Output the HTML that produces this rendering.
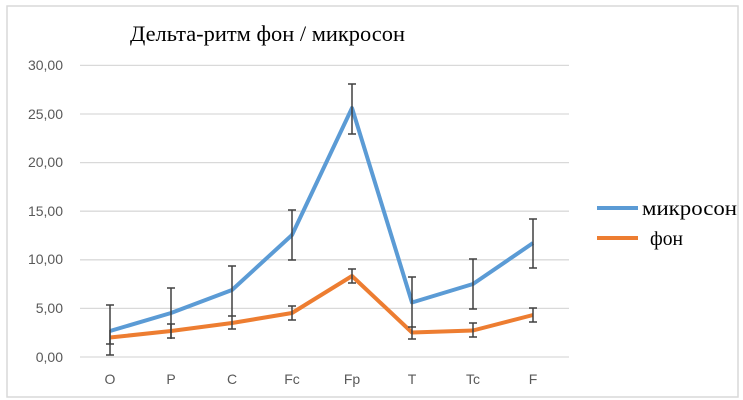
<!DOCTYPE html>
<html><head><meta charset="utf-8"><style>
body{margin:0;background:#fff;}
svg{display:block;}
</style></head><body>
<svg width="743" height="400" viewBox="0 0 743 400" xmlns="http://www.w3.org/2000/svg">
<rect x="0" y="0" width="743" height="400" fill="#fff"/>
<rect x="7" y="6" width="731" height="391" fill="none" stroke="#d9d9d9" stroke-width="1.5"/>
<text x="130" y="41" font-family="Liberation Serif, serif" font-size="22" fill="#000" textLength="275" lengthAdjust="spacingAndGlyphs">Дельта-ритм фон / микросон</text>
<g stroke="#d9d9d9" stroke-width="1.3">
<line x1="80" y1="65.4" x2="569" y2="65.4"/>
<line x1="80" y1="114" x2="569" y2="114"/>
<line x1="80" y1="162.6" x2="569" y2="162.6"/>
<line x1="80" y1="211.2" x2="569" y2="211.2"/>
<line x1="80" y1="259.8" x2="569" y2="259.8"/>
<line x1="80" y1="308.4" x2="569" y2="308.4"/>
<line x1="80" y1="357" x2="569" y2="357"/>
</g>
<g font-family="Liberation Sans, sans-serif" font-size="14" fill="#595959" text-anchor="end">
<text x="63" y="70">30,00</text>
<text x="63" y="119">25,00</text>
<text x="63" y="167">20,00</text>
<text x="63" y="216">15,00</text>
<text x="63" y="264">10,00</text>
<text x="63" y="313">5,00</text>
<text x="63" y="362">0,00</text>
</g>
<g font-family="Liberation Sans, sans-serif" font-size="14" fill="#595959" text-anchor="middle">
<text x="110" y="384">O</text><text x="171" y="384">P</text><text x="232" y="384">C</text><text x="292" y="384">Fc</text><text x="352" y="384">Fp</text><text x="412" y="384">T</text><text x="473" y="384">Tc</text><text x="533" y="384">F</text>
</g>
<polyline fill="none" stroke="#5b9bd5" stroke-width="4" stroke-linejoin="round" points="110,331 171,313 232,290 292,235 352,108 412,302.5 473,284 533,243"/>
<polyline fill="none" stroke="#ed7d31" stroke-width="4" stroke-linejoin="round" points="110,337.5 171,331 232,323 292,313 352,276 412,332.5 473,330.5 533,315"/>
<g stroke="#404040" stroke-width="1.5">
<path d="M110,305V355M106,305h8M106,355h8"/>
<path d="M171,288V339M167,288h8"/>
<path d="M232,266V316M228,266h8M228,316h8"/>
<path d="M292,210V260M288,210h8M288,260h8"/>
<path d="M352,84V134M348,84h8M348,134h8"/>
<path d="M412,277V327M408,277h8M408,327h8"/>
<path d="M473,259V309M469,259h8M469,309h8"/>
<path d="M533,219V268M529,219h8M529,268h8"/>
<path d="M110,330V344M106,344h8"/>
<path d="M171,324V338M167,324h8M167,338h8"/>
<path d="M232,316V329M228,329h8"/>
<path d="M292,306V320M288,306h8M288,320h8"/>
<path d="M352,269V283M348,269h8M348,283h8"/>
<path d="M412,326V339M408,339h8"/>
<path d="M473,323V337M469,323h8M469,337h8"/>
<path d="M533,308V322M529,308h8M529,322h8"/>
</g>
<line x1="597" y1="208" x2="638" y2="208" stroke="#5b9bd5" stroke-width="4"/>
<line x1="597" y1="238" x2="638" y2="238" stroke="#ed7d31" stroke-width="4"/>
<g font-family="Liberation Serif, serif" font-size="20" fill="#000">
<text x="642" y="215" textLength="95" lengthAdjust="spacingAndGlyphs">микросон</text>
<text x="650" y="245" textLength="33" lengthAdjust="spacingAndGlyphs">фон</text>
</g>
</svg>
</body></html>
